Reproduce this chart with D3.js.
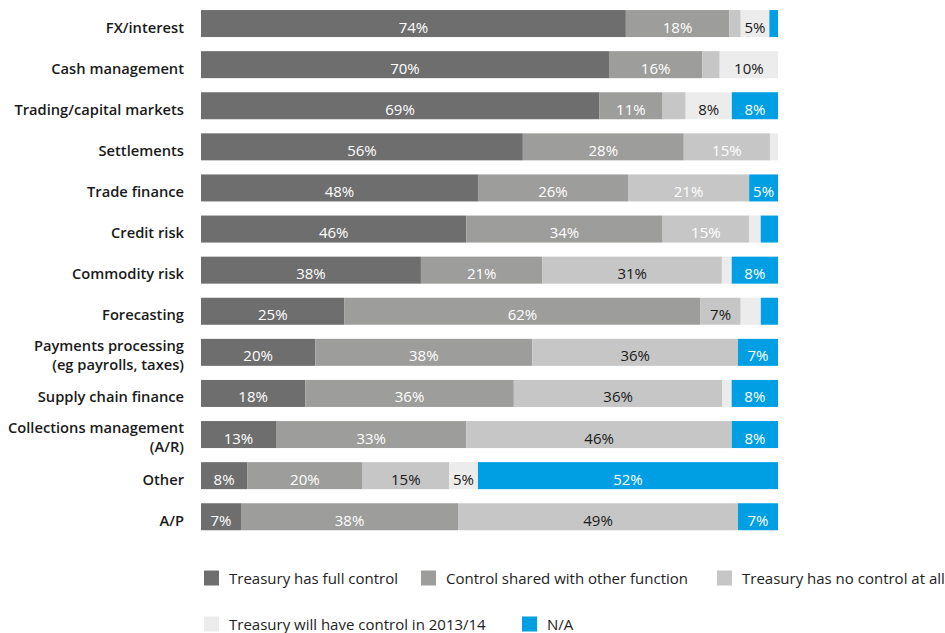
<!DOCTYPE html>
<html>
<head>
<meta charset="utf-8">
<script src="https://cdn.jsdelivr.net/npm/d3@7"></script>
<style>
  body { margin: 0; background: #fff; }
  text { font-family: "Open Sans", sans-serif; }
</style>
</head>
<body>
<div id="chart"></div>
<script>
var categories = ["FX/interest", "Cash management", "Trading/capital markets", "Settlements",
  "Trade finance", "Credit risk", "Commodity risk", "Forecasting",
  "Payments processing\n(eg payrolls, taxes)", "Supply chain finance",
  "Collections management\n(A/R)", "Other", "A/P"];

var fullControl = [74, 70, 69, 56, 48, 46, 38, 25, 20, 18, 13, 8, 7];
var shared      = [18, 16, 11, 28, 26, 34, 21, 62, 38, 36, 33, 20, 38];
var noControl   = [2, 3, 4, 15, 21, 15, 31, 7, 36, 36, 46, 15, 49];
var willHave    = [5, 10, 8, 1.4, 0, 2, 1.7, 3.5, 0, 1.6, 0, 5, 0];
var notApplic   = [1.5, 0, 8, 0, 5, 3, 8, 3, 7, 8, 8, 52, 7];

var seriesNames = ["Treasury has full control", "Control shared with other function",
  "Treasury has no control at all", "Treasury will have control in 2013/14", "N/A"];
var colors = ["#6e6e6e", "#9d9d9b", "#c6c6c6", "#ececec", "#009fe3"];
// rows where the light grey segment carries a white label
var whiteOnLight = ["Settlements", "Trade finance", "Credit risk"];

var keys = ["full", "shared", "none", "will", "na"];
var rows = categories.map((c, i) => ({
  cat: c, full: fullControl[i], shared: shared[i], none: noControl[i],
  will: willHave[i], na: notApplic[i]
}));

var width = 945, height = 633;
var svg = d3.select("#chart").append("svg")
  .attr("width", width)
  .attr("height", height);

var stack = d3.stack().keys(keys).offset(d3.stackOffsetExpand);
var layers = stack(rows);

var x = d3.scaleLinear().domain([0, 1]).range([201, 778]);
var y = d3.scaleBand().domain(categories)
  .range([3, 537.3])
  .paddingInner(0.343)
  .paddingOuter(0.1715);
var mid = d => y(d) + y.bandwidth() / 2;

var g = svg.selectAll("g.layer")
  .data(layers)
  .enter().append("g")
  .attr("class", "layer")
  .attr("fill", (d, i) => colors[i]);

g.selectAll("rect")
  .data(d => d)
  .enter().append("rect")
  .attr("x", d => x(d[0]))
  .attr("width", d => Math.max(0, x(d[1]) - x(d[0])))
  .attr("y", d => y(d.data.cat))
  .attr("height", y.bandwidth());

// value labels
layers.forEach((layer, si) => {
  svg.append("g").selectAll("text")
    .data(layer.filter(d => d.data[keys[si]] >= 5))
    .enter().append("text")
    .attr("x", d => (x(d[0]) + x(d[1])) / 2)
    .attr("y", d => mid(d.data.cat) + 9)
    .attr("text-anchor", "middle")
    .style("font-size", "15px")
    .style("font-weight", 500)
    .attr("fill", d => {
      var dark = si == 3 || (si == 2 && whiteOnLight.indexOf(d.data.cat) < 0);
      return dark ? "#1a1a1a" : "#fff";
    })
    .text(d => Math.round(d.data[keys[si]]) + "%");
});

// category labels
var cl = svg.append("g").selectAll("text")
  .data(categories)
  .enter().append("text")
  .attr("text-anchor", "end")
  .attr("x", 184)
  .attr("y", d => mid(d))
  .style("font-size", "14.7px")
  .style("font-weight", 600)
  .attr("fill", "#1a1a1a");

cl.each(function(d) {
  var lines = d.split("\n");
  var t = d3.select(this);
  lines.forEach((ln, i) => {
    t.append("tspan")
      .attr("x", 184)
      .attr("y", mid(d) + (lines.length == 1 ? 9 : (i == 0 ? -1.5 : 17.5)))
      .text(ln);
  });
});

// legend
var legendPos = [[204, 578], [421, 578], [717, 578], [204, 624], [522, 624]];
var lg = svg.append("g").selectAll("g")
  .data(seriesNames)
  .enter().append("g")
  .attr("transform", (d, i) => "translate(" + legendPos[i][0] + "," + legendPos[i][1] + ")");

lg.append("rect")
  .attr("x", 0).attr("y", -7.5)
  .attr("width", 15).attr("height", 15)
  .attr("fill", (d, i) => colors[i]);

lg.append("text")
  .attr("x", 25)
  .attr("y", 5.5)
  .style("font-size", "15px")
  .attr("fill", "#222")
  .text(d => d);
</script>
</body>
</html>
